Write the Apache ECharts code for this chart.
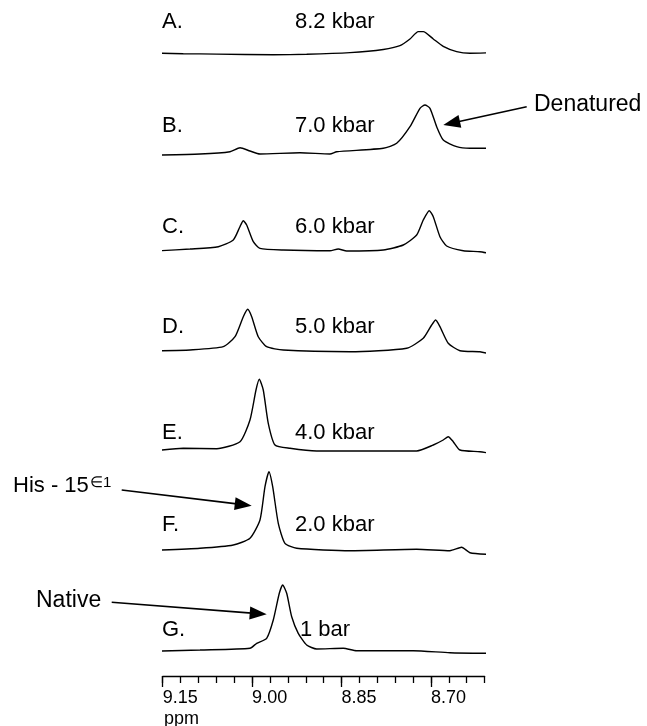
<!DOCTYPE html>
<html>
<head>
<meta charset="utf-8">
<script src="https://cdn.jsdelivr.net/npm/echarts@6/dist/echarts.min.js"></script>
<style>html,body{margin:0;padding:0;background:#fff}#c{width:647px;height:726px}</style>
</head>
<body>
<div id="c"></div>
<script>
// ---- Data (ppm, intensity in arbitrary units) ----
const letters = ['A.', 'B.', 'C.', 'D.', 'E.', 'F.', 'G.'];
const pressures = ['8.2 kbar', '7.0 kbar', '6.0 kbar', '5.0 kbar', '4.0 kbar', '2.0 kbar', '1 bar'];
const majorTicks = [8.70, 8.85, 9.00, 9.15];

const specA = [[9.1545,0.7],[9.1155,0],[9.0594,-0.7],[8.9645,-1.7],[8.9085,-1],[8.8358,1.7],[8.78,6.7],[8.752,12.7],[8.7352,23.3],[8.7213,35],[8.7129,35],[8.6961,23.3],[8.6794,11.7],[8.6569,3.3],[8.6346,0.7],[8.6066,1.3]];
const specB = [[9.1574,0],[9.0874,1],[9.0371,3.3],[9.0203,7.3],[9.0036,4],[8.9868,1],[8.9197,2.3],[8.8694,1],[8.8581,3.3],[8.78,6.7],[8.7575,11.7],[8.7352,28.3],[8.7184,46.7],[8.71,50],[8.7016,46.7],[8.6904,28.3],[8.6793,15],[8.6569,8.3],[8.6346,6.7],[8.6066,6.7]];
const specC = [[9.1545,0.3],[9.1042,2],[9.0567,4.3],[9.0316,11],[9.0204,24.3],[9.0148,30.3],[9.0091,26],[8.998,9.3],[8.9868,2.7],[8.9477,1],[8.8694,0.3],[8.8555,2],[8.8414,0],[8.78,1],[8.7464,6],[8.724,16],[8.7129,31],[8.7028,40.3],[8.6961,34.3],[8.6849,14.3],[8.6737,5],[8.6458,0.3],[8.6178,-0.7],[8.6039,-2.3]];
const specD = [[9.1517,0.3],[9.1042,1],[9.0484,4.3],[9.0287,14.3],[9.0148,34.3],[9.0074,41.7],[9.0007,34.3],[8.9897,14.3],[8.9756,4.3],[8.9477,1],[8.8358,-0.7],[8.7407,2.7],[8.7129,12.7],[8.6988,26],[8.6921,31],[8.6849,24.3],[8.671,7.7],[8.6513,0.3],[8.6178,-0.7],[8.601,-3]];
const specE = [[9.1517,0],[9.1155,1.7],[9.0594,1.3],[9.0203,8.3],[9.0036,30],[8.9935,60],[8.988,70.7],[8.9813,60],[8.9729,26.7],[8.9616,5],[8.9365,1.7],[8.8917,-1],[8.724,-1],[8.6961,5],[8.6794,10],[8.671,13.3],[8.6626,8.3],[8.6513,0],[8.6178,-1.7],[8.601,-3.3]];
const specF = [[9.1517,0],[9.0874,1.7],[9.0316,5],[9.0036,11.7],[8.9868,30],[8.9784,63.3],[8.9717,78.3],[8.9655,63.3],[8.9561,26.7],[8.9449,6.7],[8.9252,1.7],[8.8358,-0.7],[8.724,0.7],[8.6681,-0.7],[8.6485,2.7],[8.6346,-2.7],[8.6039,-4.3]];
const specG = [[9.1517,-1],[9.0874,0],[9.0036,1.7],[8.9923,6.7],[8.9756,11.7],[8.9645,30],[8.9544,56.7],[8.9487,65],[8.942,56.7],[8.9336,33.3],[8.9226,16.7],[8.9085,5],[8.8917,1],[8.8471,1.7],[8.8246,-0.7],[8.7297,-0.7],[8.6681,-2.7],[8.6039,-3.3]];
const spectra = [specA, specB, specC, specD, specE, specF, specG];

// ---- Layout ----
const FONT = '"Liberation Sans", Arial, Helvetica, sans-serif';
const baselines = [50, 155, 251, 351, 450, 550, 650];
const labelY = [22, 126, 227, 327, 433, 525, 630];
const GL = 162.7, GW = 321.9;
const YMAX = 85, YMIN = -10;

const grids = [], xAxes = [], yAxes = [], series = [];
spectra.forEach((d, i) => {
  grids.push({ left: GL, width: GW, top: baselines[i] - YMAX, height: YMAX - YMIN });
  xAxes.push({ type: 'value', gridIndex: i, min: 8.61, max: 9.15, inverse: true, show: false });
  yAxes.push({ type: 'value', gridIndex: i, min: YMIN, max: YMAX, show: false });
  series.push({
    type: 'line', xAxisIndex: i, yAxisIndex: i, data: d, showSymbol: false,
    smooth: 0.2, clip: false, silent: true,
    lineStyle: { color: '#000', width: 1.4 }
  });
});
// axis grid
const ai = spectra.length;
grids.push({ left: GL, width: GW, top: 600, height: 76 });
xAxes.push({
  type: 'value', gridIndex: ai, position: 'bottom', min: 8.61, max: 9.15, interval: 0.03, inverse: true,
  axisLine: { show: true, lineStyle: { color: '#000', width: 1.3 } },
  axisTick: { show: true, length: 7, lineStyle: { color: '#000', width: 1.3 } },
  axisLabel: { show: false }, splitLine: { show: false }
});
xAxes.push({
  type: 'value', gridIndex: ai, position: 'bottom', offset: 0, min: 8.61, max: 9.15, inverse: true,
  axisLine: { show: false },
  axisTick: { show: true, length: 11, customValues: majorTicks, lineStyle: { color: '#000', width: 1.3 } },
  axisLabel: { show: true, customValues: majorTicks, align: 'left', margin: 13, color: '#000', fontSize: 18, fontFamily: FONT,
    formatter: v => v.toFixed(2) },
  splitLine: { show: false }
});
yAxes.push({ type: 'value', gridIndex: ai, show: false });

// ---- Annotations ----
const graphic = [];
const txt = (text, x, y, size) => graphic.push({ type: 'text', silent: true, style: { text, x, y, fill: '#000', font: size + 'px ' + FONT, textVerticalAlign: 'middle' } });
letters.forEach((t, i) => {
  txt(t, 162, labelY[i], 22);
  txt(pressures[i], i === 6 ? 300 : 295, labelY[i], 22);
});
txt('ppm', 164, 719, 18);
txt('Denatured', 534, 105, 23);
txt('His - 15', 13, 486, 22);
txt('\u22081', 90, 483, 15);
txt('Native', 36, 601, 23);

function arrow(x1, y1, x2, y2) {
  const dx = x2 - x1, dy = y2 - y1, L = Math.hypot(dx, dy);
  const ux = dx / L, uy = dy / L, hl = 17, hw = 6.5;
  const bx = x2 - ux * hl, by = y2 - uy * hl;
  graphic.push({ type: 'line', silent: true, shape: { x1, y1, x2: bx + ux * 2, y2: by + uy * 2 }, style: { stroke: '#000', lineWidth: 1.6 } });
  graphic.push({ type: 'polygon', silent: true, shape: { points: [[x2, y2], [bx - uy * hw, by + ux * hw], [bx + uy * hw, by - ux * hw]] }, style: { fill: '#000' } });
}
arrow(526.7, 106.7, 443.3, 125);
arrow(121.7, 490, 251.7, 505.7);
arrow(111.7, 602.3, 266.7, 614.3);

const chart = echarts.init(document.getElementById('c'), null, { renderer: 'canvas' });
chart.setOption({
  backgroundColor: '#fff', animation: false,
  grid: grids, xAxis: xAxes, yAxis: yAxes, series, graphic
});
</script>
</body>
</html>
